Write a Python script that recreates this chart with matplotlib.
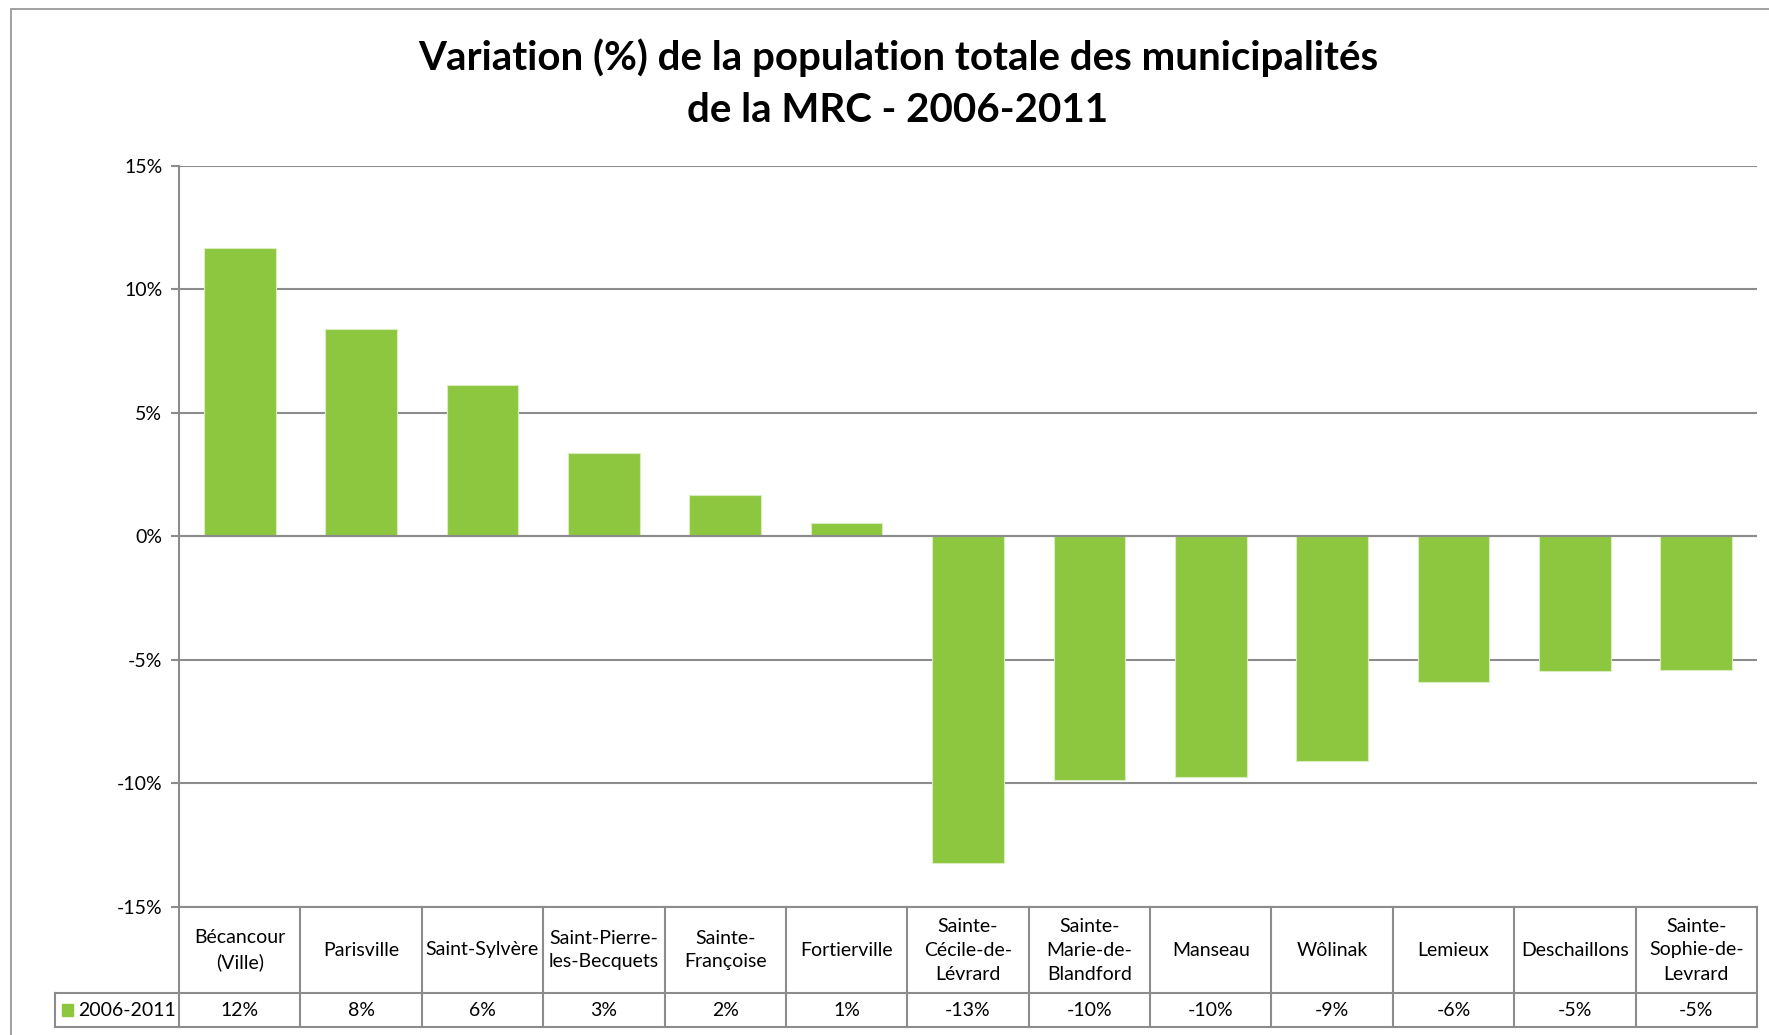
import matplotlib.pyplot as plt
from matplotlib.patches import Rectangle
from matplotlib.lines import Line2D
import matplotlib.transforms as mtransforms

plt.rcParams['font.family'] = ['Lato', 'DejaVu Sans']

municipalites = ['Bécancour\n(Ville)', 'Parisville', 'Saint-Sylvère', 'Saint-Pierre-\nles-Becquets',
                 'Sainte-\nFrançoise', 'Fortierville', 'Sainte-\nCécile-de-\nLévrard',
                 'Sainte-\nMarie-de-\nBlandford', 'Manseau', 'Wôlinak', 'Lemieux',
                 'Deschaillons', 'Sainte-\nSophie-de-\nLevrard']
variation = [11.69, 8.40, 6.12, 3.38, 1.69, 0.55, -13.2, -9.87, -9.74, -9.09, -5.89, -5.43, -5.39]
serie = '2006-2011'
y_ticks = [-15, -10, -5, 0, 5, 10, 15]

green = '#8DC63F'
gray = '#8C8C8C'
fs = 14

W, H = 1769, 1035
fig = plt.figure(figsize=(W / 100, H / 100), dpi=100)

# outer chart frame (cut off on right and bottom like the reference)
fig.patches.append(Rectangle((11 / W, -0.1), 2, 1.1 - 9 / H, transform=fig.transFigure,
                             fill=False, edgecolor='#9A9A9A', linewidth=1.3))

ax = fig.add_axes([179 / W, 1 - 907 / H, (1757 - 179) / W, (907 - 166) / H])
x = list(range(len(variation)))
ax.bar(x, variation, width=0.59, color=green, edgecolor='#D9EDBF', linewidth=0.8, zorder=3)

ax.set_xlim(-0.5, len(variation) - 0.5)
ax.set_ylim(-15, 15)
ax.set_yticks(y_ticks)
ax.set_yticklabels([f'{t}%' for t in y_ticks], fontsize=fs)
ax.set_xticks([])
ax.grid(axis='y', color=gray, linewidth=1.5, zorder=0)
for s in ['top', 'right', 'bottom']:
    ax.spines[s].set_visible(False)
ax.spines['left'].set_color(gray)
ax.spines['left'].set_linewidth(1.5)
ax.tick_params(axis='y', direction='out', length=6, width=1.5, color=gray, pad=6)
ax.axhline(0, color=gray, linewidth=1.5, zorder=4)

# data table below the plot
trans = mtransforms.blended_transform_factory(ax.transData, ax.transAxes)
ah = 907 - 166
y_top, y_mid, y_bot = 0, -86 / ah, -120 / ah
x_leg = -0.5 - (179 - 55) / ((1757 - 179) / len(variation))
n = len(variation)
lines = [((-0.5, n - 0.5), (y_top, y_top)), ((x_leg, n - 0.5), (y_mid, y_mid)),
         ((x_leg, n - 0.5), (y_bot, y_bot)), ((x_leg, x_leg), (y_mid, y_bot))]
for i in range(n + 1):
    lines.append(((i - 0.5, i - 0.5), (y_top, y_bot)))
for xs, ys in lines:
    ax.add_line(Line2D(xs, ys, transform=trans, color=gray, linewidth=1.5, clip_on=False))

for i, (name, v) in enumerate(zip(municipalites, variation)):
    ax.text(i, (y_top + y_mid) / 2, name, transform=trans, ha='center', va='center',
            fontsize=fs, linespacing=1.5)
    ax.text(i, (y_mid + y_bot) / 2, f'{round(v):.0f}%', transform=trans, ha='center',
            va='center', fontsize=fs)

ax.add_patch(Rectangle((x_leg + 0.06, (y_mid + y_bot) / 2 - 0.0085), 0.085, 0.017,
                       transform=trans, color=green, clip_on=False))
ax.text(x_leg + 0.19, (y_mid + y_bot) / 2, serie, transform=trans, ha='left', va='center',
        fontsize=fs)

fig.text(898 / W, 1 - 58 / H, 'Variation (%) de la population totale des municipalités',
         ha='center', va='center', fontsize=29, fontweight='bold')
fig.text(898 / W, 1 - 110 / H, 'de la MRC - 2006-2011',
         ha='center', va='center', fontsize=29, fontweight='bold')

fig.savefig('out.png', dpi=100)
